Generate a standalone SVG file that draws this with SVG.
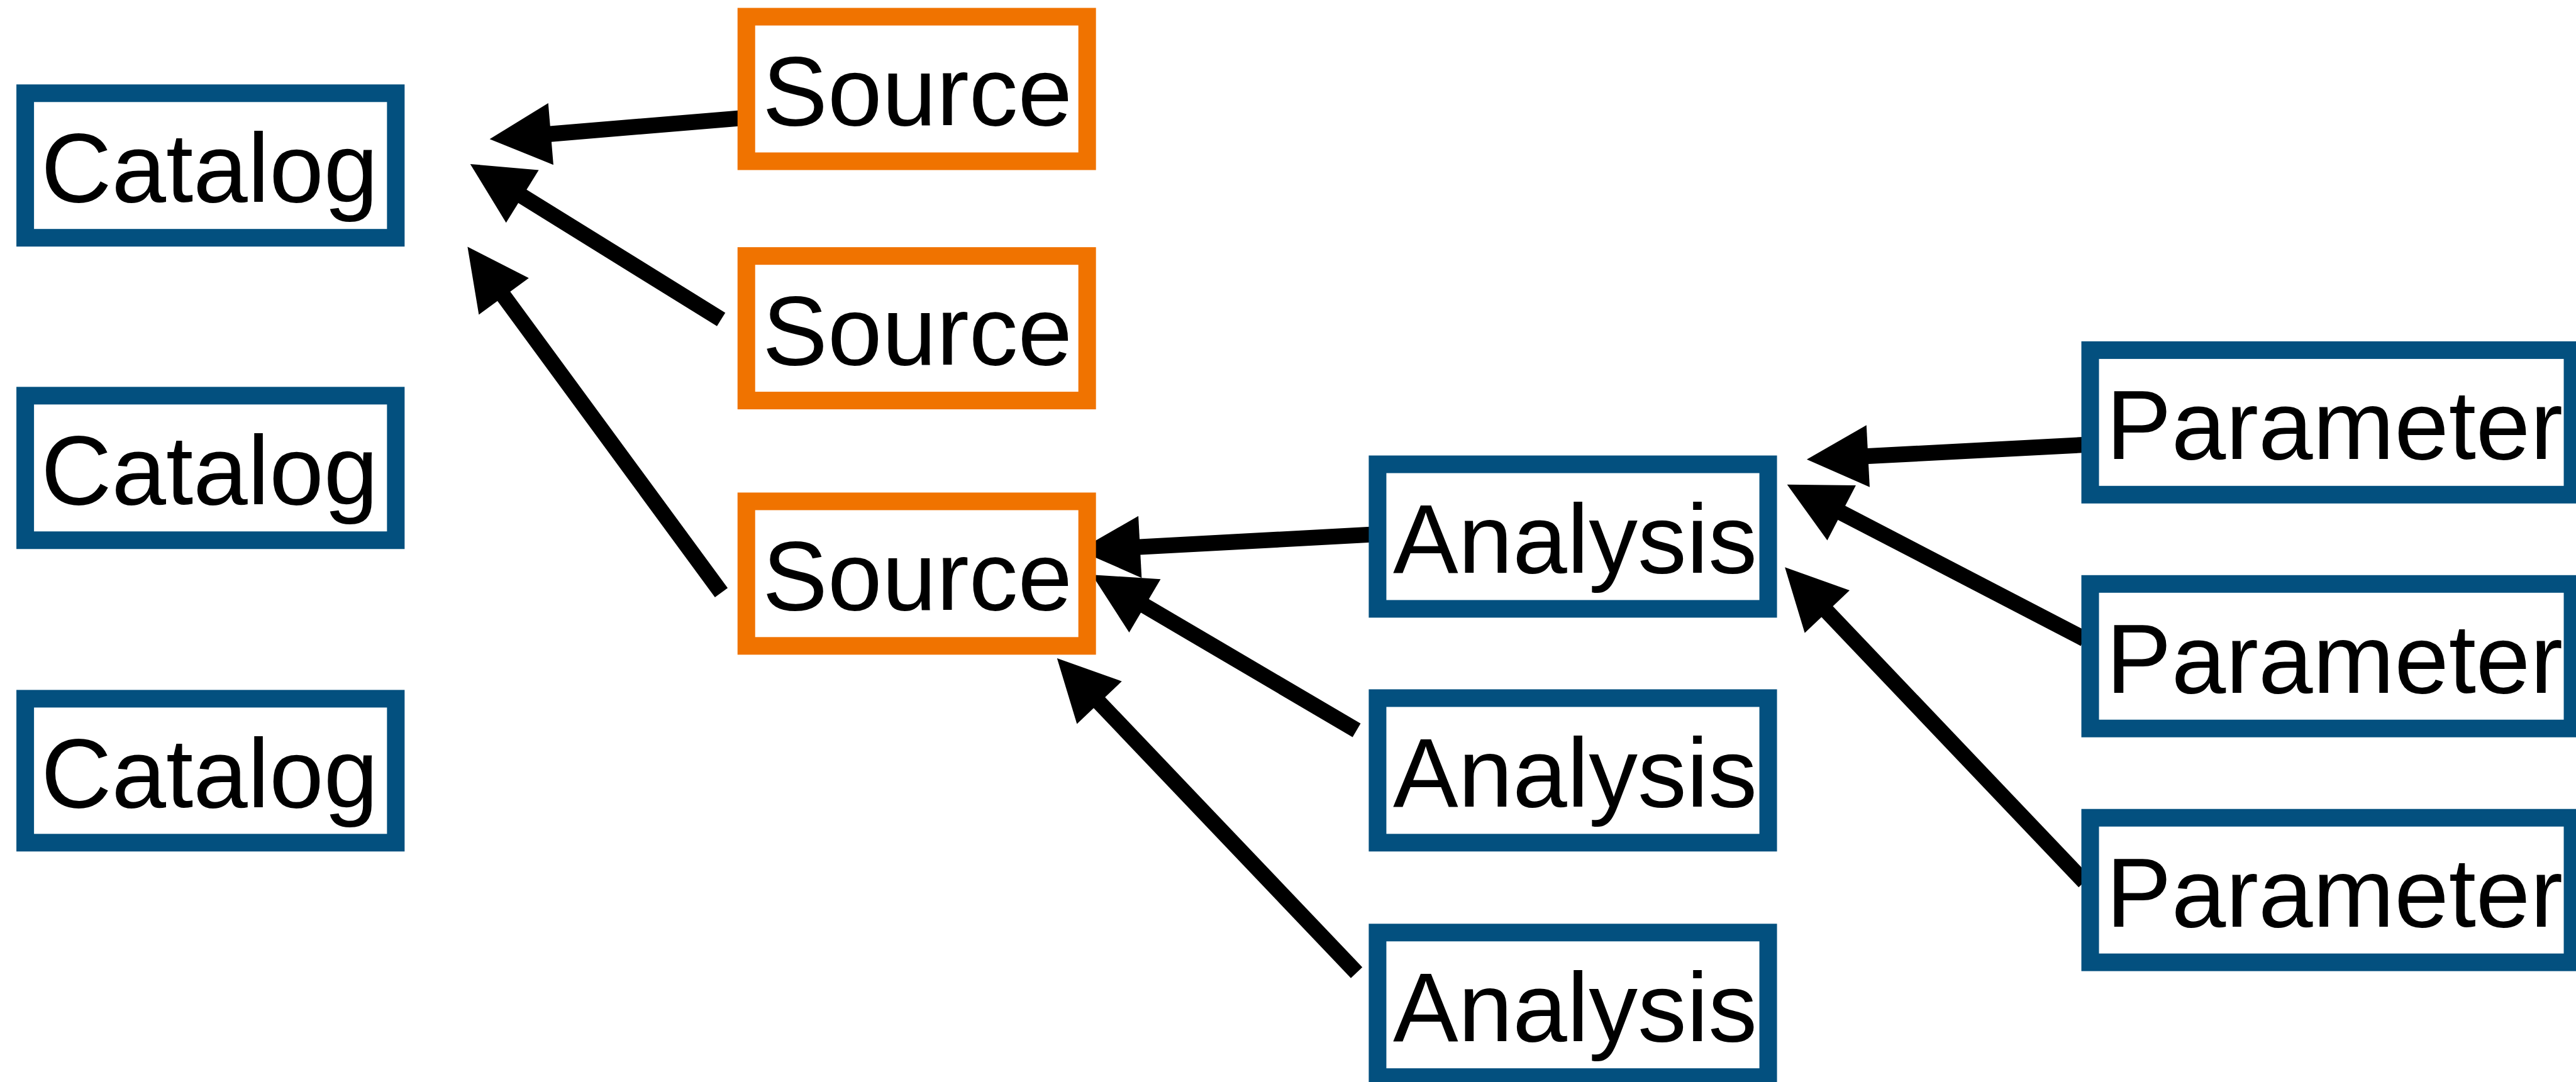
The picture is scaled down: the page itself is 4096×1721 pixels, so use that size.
<svg xmlns="http://www.w3.org/2000/svg" width="4096" height="1721" viewBox="0 0 4096 1721">
  <style>
    .box { fill: #ffffff; stroke-width: 29; }
    .blue { stroke: #03507f; }
    .orange { stroke: #f07300; }
    .label { font-family: "Liberation Sans", Arial, Helvetica, sans-serif; font-size: 161px; fill: #000000; }
    .edge { stroke: #000000; stroke-width: 26; fill: none; marker-end: url(#head); }
  </style>
  <defs>
    <marker id="head" markerUnits="userSpaceOnUse" markerWidth="102" markerHeight="102" refX="10" refY="51" orient="auto" overflow="visible">
      <path d="M0,0 L101,51 L0,102 Z" fill="#000000"/>
    </marker>
  </defs>
  <rect width="4096" height="1721" fill="#ffffff"/>
  <g transform="scale(0.966)">
    <!-- connectors -->
    <g id="connectors">
      <line class="edge" x1="1237" y1="193" x2="896.7" y2="221.4"/>
      <line class="edge" x1="1187" y1="526" x2="851.4" y2="318"/>
      <line class="edge" x1="1187.3" y1="975.8" x2="823.4" y2="479.8"/>
      <line class="edge" x1="2261" y1="880" x2="1866.5" y2="901.1"/>
      <line class="edge" x1="2233" y1="1202.5" x2="1875.9" y2="992.5"/>
      <line class="edge" x1="2233" y1="1601.5" x2="1802.7" y2="1149.7"/>
      <line class="edge" x1="3458" y1="731" x2="3064.9" y2="751.6"/>
      <line class="edge" x1="3431" y1="1052" x2="3022.4" y2="839.8"/>
      <line class="edge" x1="3431" y1="1452" x2="3000.7" y2="999.9"/>
    </g>

    <!-- catalogs -->
    <g id="catalog-1">
      <rect class="box blue" x="41.5" y="153.5" width="610" height="238"/>
      <text class="label" x="67.5" y="332.5">Catalog</text>
    </g>
    <g id="catalog-2">
      <rect class="box blue" x="41.5" y="651.5" width="610" height="238"/>
      <text class="label" x="67.5" y="830.5">Catalog</text>
    </g>
    <g id="catalog-3">
      <rect class="box blue" x="41.5" y="1150.5" width="610" height="237"/>
      <text class="label" x="67.5" y="1329">Catalog</text>
    </g>

    <!-- sources -->
    <g id="source-1">
      <rect class="box orange" x="1228.5" y="27.5" width="561" height="238"/>
      <text class="label" x="1255" y="206.5">Source</text>
    </g>
    <g id="source-2">
      <rect class="box orange" x="1228.5" y="421.5" width="561" height="238"/>
      <text class="label" x="1255" y="600.5">Source</text>
    </g>
    <g id="source-3">
      <rect class="box orange" x="1228.5" y="825.5" width="561" height="238"/>
      <text class="label" x="1255" y="1004.5">Source</text>
    </g>

    <!-- analyses -->
    <g id="analysis-1">
      <rect class="box blue" x="2267.5" y="764.5" width="643" height="238"/>
      <text class="label" x="2293" y="943.5">Analysis</text>
    </g>
    <g id="analysis-2">
      <rect class="box blue" x="2267.5" y="1149.5" width="643" height="238"/>
      <text class="label" x="2293" y="1328.5">Analysis</text>
    </g>
    <g id="analysis-3">
      <rect class="box blue" x="2267.5" y="1535.5" width="643" height="238"/>
      <text class="label" x="2293" y="1714.5">Analysis</text>
    </g>

    <!-- parameters -->
    <g id="parameter-1">
      <rect class="box blue" x="3440.5" y="576.5" width="794" height="238"/>
      <text class="label" x="3467" y="755.5">Parameter</text>
    </g>
    <g id="parameter-2">
      <rect class="box blue" x="3440.5" y="961.5" width="794" height="238"/>
      <text class="label" x="3467" y="1140.5">Parameter</text>
    </g>
    <g id="parameter-3">
      <rect class="box blue" x="3440.5" y="1346.5" width="794" height="238"/>
      <text class="label" x="3467" y="1525.5">Parameter</text>
    </g>
  </g>
</svg>
